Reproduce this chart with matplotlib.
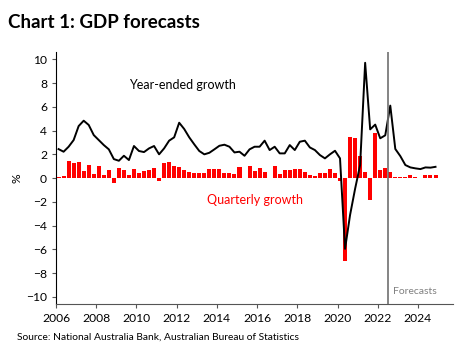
import numpy as np
import matplotlib
matplotlib.use("Agg")
import matplotlib.pyplot as plt

plt.rcParams["font.family"] = ["Lato", "DejaVu Sans"]

# quarters 2006Q1 .. 2024Q4
START_YEAR = 2006
quarterly = [
    0.10, 0.17, 1.43, 1.29, 1.35, 0.60, 1.10, 0.38, 1.00, 0.25,
    0.67, -0.45, 0.87, 0.72, 0.30, 0.73, 0.45, 0.64, 0.68, 0.85,
    -0.28, 1.27, 1.35, 1.05, 0.90, 0.70, 0.55, 0.47, 0.45, 0.45,
    0.75, 0.77, 0.73, 0.45, 0.42, 0.38, 0.95, 0.05, 1.00, 0.60,
    0.85, 0.50, 0.05, 1.05, 0.35, 0.70, 0.70, 0.75, 0.80, 0.55,
    0.30, 0.20, 0.45, 0.45, 0.80, 0.45, -0.22, -7.00, 3.43, 3.37,
    1.88, 0.55, -1.80, 3.82, 0.67, 0.84, 0.53, 0.10, 0.10, 0.10,
    0.25, 0.10, 0.05, 0.25, 0.25, 0.25,
]
year_ended = [
    2.44, 2.22, 2.64, 3.20, 4.38, 4.83, 4.47, 3.62, 3.20, 2.78,
    2.42, 1.60, 1.46, 1.88, 1.52, 2.70, 2.28, 2.19, 2.50, 2.70,
    2.00, 2.50, 3.15, 3.43, 4.66, 4.13, 3.43, 2.84, 2.28, 2.00,
    2.13, 2.42, 2.72, 2.81, 2.64, 2.16, 2.22, 1.88, 2.42, 2.64,
    2.64, 3.15, 2.36, 2.64, 2.08, 2.08, 2.78, 2.36, 3.06, 3.15,
    2.58, 2.36, 1.94, 1.66, 2.00, 2.30, 1.66, -5.95, -3.10, -0.90,
    1.10, 9.70, 4.10, 4.50, 3.35, 3.60, 6.10, 2.45, 1.85, 1.10,
    0.90, 0.82, 0.76, 0.90, 0.88, 0.95,
]
forecast_start = 2022.5
year_ticks = list(range(2006, 2025, 2))
pct_ticks = list(range(-10, 11, 2))

x = START_YEAR + 0.125 + 0.25 * np.arange(len(quarterly))

fig = plt.figure(figsize=(4.71, 3.52), dpi=100)
ax = fig.add_axes([0.119, 0.136, 0.843, 0.716])

ax.bar(x, quarterly, width=0.2, color="#ff0000", zorder=2)
ax.plot(x, year_ended, color="black", linewidth=1.4, zorder=3)
ax.axvline(forecast_start, color="#707070", linewidth=1.2, zorder=4)

ax.set_xlim(2006, 2025.75)
ax.set_ylim(-10.6, 10.6)
ax.set_xticks(year_ticks)
ax.set_yticks(pct_ticks)
ax.tick_params(labelsize=8.7, length=3, width=0.8, color="#555555")
ax.set_ylabel("%", fontsize=8.7)
ax.yaxis.set_label_coords(-0.085, 0.5)

for side in ["top", "right"]:
    ax.spines[side].set_visible(False)
ax.spines["left"].set_color("black")
ax.spines["bottom"].set_color("#555555")

ax.text(2012.3, 7.8, "Year-ended growth", fontsize=9, ha="center", va="center")
ax.text(2015.9, -1.85, "Quarterly growth", fontsize=9, ha="center", va="center",
        color="#ff0000")
ax.text(2022.75, -9.5, "Forecasts", fontsize=7.5, ha="left", va="center",
        color="#808080")

fig.text(0.017, 0.937, "Chart 1: GDP forecasts", fontsize=13.5, fontweight="bold",
         ha="left", va="center")
fig.text(0.036, 0.043, "Source: National Australia Bank, Australian Bureau of Statistics",
         fontsize=7.4, ha="left", va="center")

fig.savefig("out.png", dpi=100)
